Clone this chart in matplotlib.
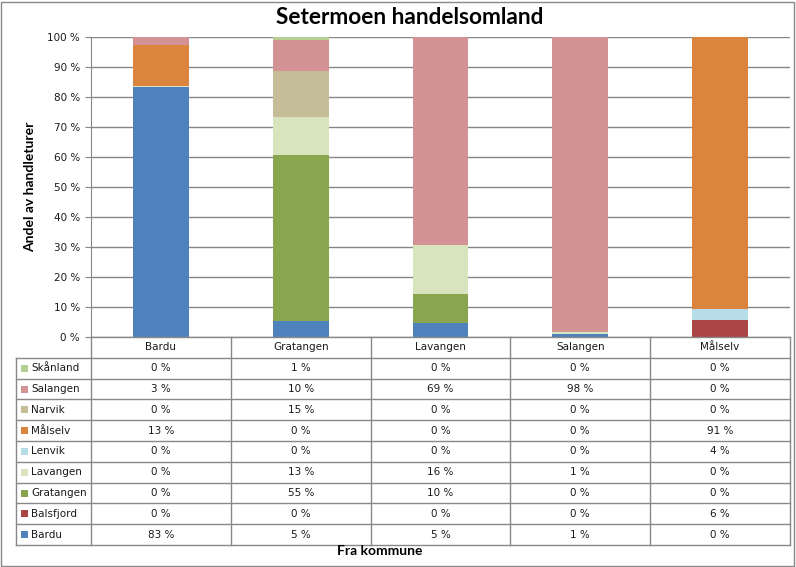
import numpy as np
import matplotlib.pyplot as plt
from matplotlib.patches import Rectangle

# columns (fra kommune)
kommuner = ['Bardu', 'Gratangen', 'Lavangen', 'Salangen', 'Målselv']

# series, stacked bottom -> top (andel in %)
serier = ['Bardu', 'Balsfjord', 'Gratangen', 'Lavangen', 'Lenvik',
          'Målselv', 'Narvik', 'Salangen', 'Skånland']
bardu     = [83.4, 5.4, 4.8, 1.0, 0.0]
balsfjord = [0.0, 0.0, 0.0, 0.0, 5.6]
gratangen = [0.0, 55.4, 9.6, 0.0, 0.0]
lavangen  = [0.4, 12.6, 16.3, 0.6, 0.0]
lenvik    = [0.0, 0.0, 0.0, 0.0, 3.6]
malselv   = [13.4, 0.0, 0.0, 0.0, 90.8]
narvik    = [0.0, 15.4, 0.0, 0.0, 0.0]
salangen  = [2.8, 10.2, 69.3, 98.4, 0.0]
skanland  = [0.0, 1.0, 0.0, 0.0, 0.0]
verdier = [bardu, balsfjord, gratangen, lavangen, lenvik,
           malselv, narvik, salangen, skanland]

farger = ['#4F81BD', '#AA4643', '#89A54E', '#D7E4BD', '#B7DDE8',
          '#DB843D', '#C4BD97', '#D39294', '#B6CE93']

W, H = 796, 567
fig = plt.figure(figsize=(W / 100, H / 100), dpi=100)

def px(x0, y0, x1, y1):
    return [x0 / W, 1 - y1 / H, (x1 - x0) / W, (y1 - y0) / H]

grid_c = '#868686'
line_c = '#888888'
small = dict(family='DejaVu Sans', fontsize=7.5, color='#1a1a1a')

# ---- bars ----
ax = fig.add_axes(px(91, 37, 790, 337))
x = np.arange(len(kommuner))
bunn = np.zeros(len(kommuner))
for navn, v, c in zip(serier, verdier, farger):
    ax.bar(x, v, 0.4, bottom=bunn, color=c, linewidth=0, zorder=3)
    bunn += np.array(v)

ax.set_xlim(-0.5, 4.5)
ax.set_ylim(0, 100)
ax.set_yticks(np.arange(0, 101, 10))
ax.set_yticklabels(['%d %%' % t for t in range(0, 101, 10)], **small)
ax.set_xticks([])
ax.yaxis.grid(True, color=grid_c, linewidth=1.0, zorder=0)
for s in ['top', 'right', 'bottom']:
    ax.spines[s].set_visible(False)
ax.spines['left'].set_color(grid_c)
ax.tick_params(axis='y', length=4, color=grid_c, pad=4)

# ---- data table ----
cw = (790 - 91) / 5.0
rh = (545 - 337) / 10.0
x_left = -0.5 - (91 - 16) / cw
tab = fig.add_axes(px(16, 337, 790, 545))
tab.set_xlim(x_left, 4.5)
tab.set_ylim(10, 0)
tab.axis('off')

rader = list(range(len(serier)))[::-1]
for yy in range(0, 11):
    xs = -0.5 if yy == 0 else x_left
    tab.plot([xs, 4.5], [yy, yy], color=line_c, lw=1.0, clip_on=False)
tab.plot([x_left, x_left], [1, 10], color=line_c, lw=1.0, clip_on=False)
for xb in np.arange(-0.5, 4.6, 1.0):
    tab.plot([xb, xb], [0, 10], color=line_c, lw=1.0, clip_on=False)

for i, k in enumerate(kommuner):
    tab.text(i, 0.5, k, ha='center', va='center', **small)

for r, si in enumerate(rader):
    yc = r + 1.5
    tab.add_patch(Rectangle((x_left + 5 / cw, yc - 3.5 / rh), 7 / cw, 7 / rh,
                            color=farger[si], lw=0, clip_on=False))
    tab.text(x_left + 15 / cw, yc, serier[si], ha='left', va='center', **small)
    for i in range(len(kommuner)):
        tab.text(i, yc, '%d %%' % int(verdier[si][i] + 0.5),
                 ha='center', va='center', **small)

# ---- titles ----
fig.text(410 / W, 1 - 18 / H, 'Setermoen handelsomland', ha='center',
         va='center', family='Lato', fontweight='bold', fontsize=16.3)
fig.text(30 / W, 1 - 187 / H, 'Andel av handleturer', ha='center',
         va='center', rotation=90, family='Lato', fontweight='bold',
         fontsize=10)
fig.text(380 / W, 1 - 551 / H, 'Fra kommune', ha='center', va='center',
         family='Lato', fontweight='bold', fontsize=10)

fig.patches.append(Rectangle((1 / W, 1 / H), (W - 3) / W, (H - 3) / H,
                             transform=fig.transFigure, fill=False,
                             edgecolor='#888888', lw=1.0))

fig.savefig('out.png', dpi=100)
